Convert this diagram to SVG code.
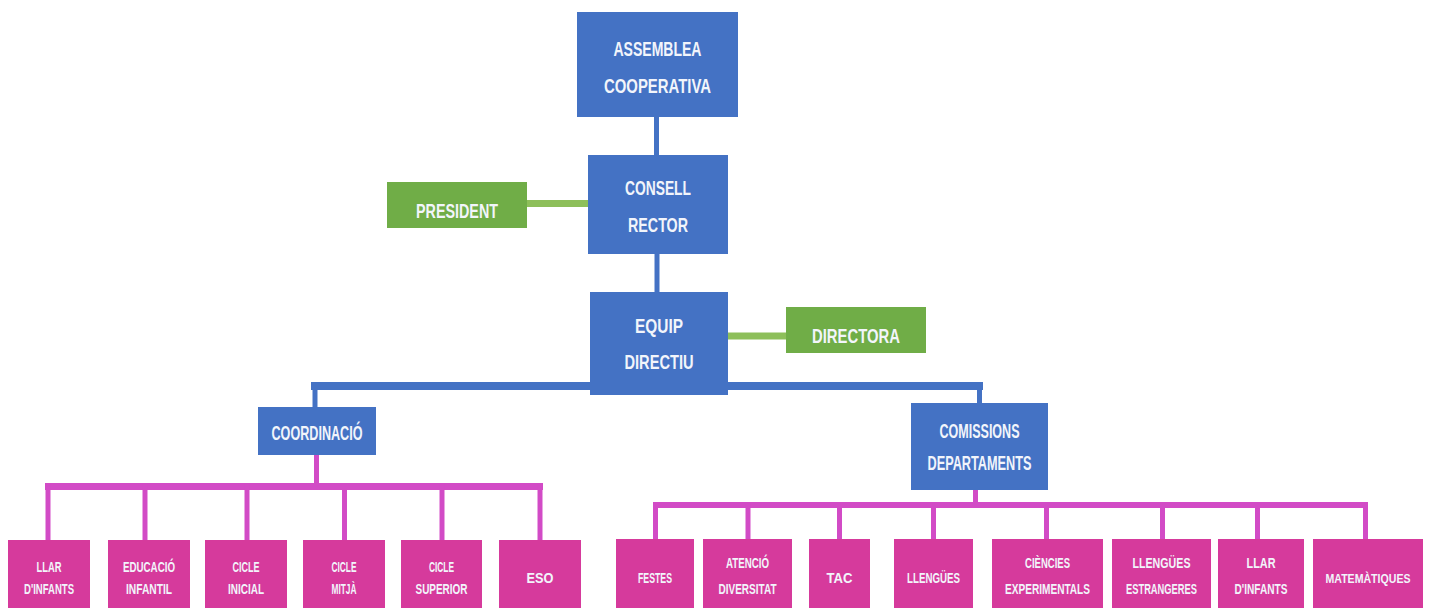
<svg xmlns="http://www.w3.org/2000/svg" width="1430" height="608" viewBox="0 0 1430 608">
<style>
.blue{fill:#4472C4}
.green{fill:#70AD47}
.pink{fill:#D63A9C}
text{font-family:"Liberation Sans",Arial,sans-serif;font-weight:bold;fill:#F2F5FB;text-anchor:middle}
.big{font-size:20px}
.small{font-size:15px}
.cb{stroke:#4472C4;fill:none}
.cg{stroke:#8DBF5A;fill:none;stroke-width:7}
.cp{stroke:#D24BC6;fill:none}
</style>
<rect width="1430" height="608" fill="#ffffff"/>
<g id="connectors">
<line class="cb" x1="656.5" y1="117" x2="656.5" y2="155" stroke-width="5"/>
<line class="cb" x1="657" y1="254" x2="657" y2="292" stroke-width="5"/>
<line class="cg" x1="527" y1="203.5" x2="588" y2="203.5"/>
<line class="cg" x1="728" y1="336" x2="786" y2="336"/>
<line class="cb" x1="311" y1="386" x2="983" y2="386" stroke-width="8"/>
<line class="cb" x1="315" y1="386" x2="315" y2="407" stroke-width="5"/>
<line class="cb" x1="979.5" y1="386" x2="979.5" y2="403" stroke-width="5"/>
<line class="cp" x1="316.5" y1="455" x2="316.5" y2="487" stroke-width="5"/>
<line class="cp" x1="45" y1="486.5" x2="543" y2="486.5" stroke-width="7"/>
<g stroke-width="5">
<line class="cp" x1="48" y1="484" x2="48" y2="540"/>
<line class="cp" x1="145" y1="484" x2="145" y2="540"/>
<line class="cp" x1="247" y1="484" x2="247" y2="540"/>
<line class="cp" x1="344.5" y1="484" x2="344.5" y2="540"/>
<line class="cp" x1="442" y1="484" x2="442" y2="540"/>
<line class="cp" x1="540" y1="484" x2="540" y2="540"/>
</g>
<line class="cp" x1="975.5" y1="490" x2="975.5" y2="506" stroke-width="5"/>
<line class="cp" x1="653" y1="505" x2="1368" y2="505" stroke-width="6"/>
<g stroke-width="5">
<line class="cp" x1="655.5" y1="503" x2="655.5" y2="539"/>
<line class="cp" x1="748" y1="503" x2="748" y2="539"/>
<line class="cp" x1="839.5" y1="503" x2="839.5" y2="539"/>
<line class="cp" x1="933.5" y1="503" x2="933.5" y2="539"/>
<line class="cp" x1="1046.5" y1="503" x2="1046.5" y2="539"/>
<line class="cp" x1="1162.5" y1="503" x2="1162.5" y2="539"/>
<line class="cp" x1="1257.5" y1="503" x2="1257.5" y2="539"/>
<line class="cp" x1="1365.5" y1="503" x2="1365.5" y2="539"/>
</g>
</g>
<g id="assemblea"><rect class="blue" x="577" y="12" width="161" height="105"/>
<text class="big" x="657.5" y="56" textLength="88" lengthAdjust="spacingAndGlyphs">ASSEMBLEA</text>
<text class="big" x="657.5" y="93" textLength="107" lengthAdjust="spacingAndGlyphs">COOPERATIVA</text></g>
<g id="consell"><rect class="blue" x="588" y="155" width="140" height="99"/>
<text class="big" x="658" y="195" textLength="66" lengthAdjust="spacingAndGlyphs">CONSELL</text>
<text class="big" x="658" y="232" textLength="60" lengthAdjust="spacingAndGlyphs">RECTOR</text></g>
<g id="president"><rect class="green" x="387" y="182" width="140" height="46"/>
<text class="big" x="457" y="218" textLength="82" lengthAdjust="spacingAndGlyphs">PRESIDENT</text></g>
<g id="equip"><rect class="blue" x="590" y="292" width="138" height="103"/>
<text class="big" x="659" y="333" textLength="48" lengthAdjust="spacingAndGlyphs">EQUIP</text>
<text class="big" x="659" y="369" textLength="69" lengthAdjust="spacingAndGlyphs">DIRECTIU</text></g>
<g id="directora"><rect class="green" x="786" y="307" width="140" height="46"/>
<text class="big" x="856" y="343" textLength="88" lengthAdjust="spacingAndGlyphs">DIRECTORA</text></g>
<g id="coordinacio"><rect class="blue" x="258" y="407" width="118" height="48"/>
<text class="big" x="317" y="440" textLength="91" lengthAdjust="spacingAndGlyphs">COORDINACIÓ</text></g>
<g id="comissions"><rect class="blue" x="911" y="403" width="137" height="87"/>
<text class="big" x="979.5" y="438" textLength="80" lengthAdjust="spacingAndGlyphs">COMISSIONS</text>
<text class="big" x="979.5" y="470" textLength="104" lengthAdjust="spacingAndGlyphs">DEPARTAMENTS</text></g>
<g id="llar1"><rect class="pink" x="8" y="540" width="82" height="68"/>
<text class="small" x="49" y="572" textLength="25" lengthAdjust="spacingAndGlyphs">LLAR</text>
<text class="small" x="49" y="594" textLength="50" lengthAdjust="spacingAndGlyphs">D'INFANTS</text></g>
<g id="educacio"><rect class="pink" x="108" y="540" width="82" height="68"/>
<text class="small" x="149" y="572" textLength="52" lengthAdjust="spacingAndGlyphs">EDUCACIÓ</text>
<text class="small" x="149" y="594" textLength="46" lengthAdjust="spacingAndGlyphs">INFANTIL</text></g>
<g id="inicial"><rect class="pink" x="205" y="540" width="82" height="68"/>
<text class="small" x="246" y="572" textLength="27" lengthAdjust="spacingAndGlyphs">CICLE</text>
<text class="small" x="246" y="594" textLength="36" lengthAdjust="spacingAndGlyphs">INICIAL</text></g>
<g id="mitja"><rect class="pink" x="303" y="540" width="82" height="68"/>
<text class="small" x="344" y="572" textLength="25" lengthAdjust="spacingAndGlyphs">CICLE</text>
<text class="small" x="344" y="594" textLength="25" lengthAdjust="spacingAndGlyphs">MITJÀ</text></g>
<g id="superior"><rect class="pink" x="401" y="540" width="81" height="68"/>
<text class="small" x="441.5" y="572" textLength="25" lengthAdjust="spacingAndGlyphs">CICLE</text>
<text class="small" x="441.5" y="594" textLength="52" lengthAdjust="spacingAndGlyphs">SUPERIOR</text></g>
<g id="eso"><rect class="pink" x="499" y="540" width="82" height="68"/>
<text class="small" x="540" y="583" textLength="27" lengthAdjust="spacingAndGlyphs">ESO</text></g>
<g id="festes"><rect class="pink" x="616" y="539" width="78" height="69"/>
<text class="small" x="655" y="583" textLength="34" lengthAdjust="spacingAndGlyphs">FESTES</text></g>
<g id="atencio"><rect class="pink" x="703" y="539" width="89" height="69"/>
<text class="small" x="747.5" y="568" textLength="43" lengthAdjust="spacingAndGlyphs">ATENCIÓ</text>
<text class="small" x="747.5" y="594" textLength="58" lengthAdjust="spacingAndGlyphs">DIVERSITAT</text></g>
<g id="tac"><rect class="pink" x="809" y="539" width="61" height="69"/>
<text class="small" x="839.5" y="583" textLength="26" lengthAdjust="spacingAndGlyphs">TAC</text></g>
<g id="llengues"><rect class="pink" x="894" y="539" width="79" height="69"/>
<text class="small" x="933.5" y="583" textLength="53" lengthAdjust="spacingAndGlyphs">LLENGÜES</text></g>
<g id="ciencies"><rect class="pink" x="992" y="539" width="111" height="69"/>
<text class="small" x="1047.5" y="568" textLength="45" lengthAdjust="spacingAndGlyphs">CIÈNCIES</text>
<text class="small" x="1047.5" y="594" textLength="85" lengthAdjust="spacingAndGlyphs">EXPERIMENTALS</text></g>
<g id="estrangeres"><rect class="pink" x="1112" y="539" width="99" height="69"/>
<text class="small" x="1161.5" y="568" textLength="58" lengthAdjust="spacingAndGlyphs">LLENGÜES</text>
<text class="small" x="1161.5" y="594" textLength="71" lengthAdjust="spacingAndGlyphs">ESTRANGERES</text></g>
<g id="llar2"><rect class="pink" x="1218" y="539" width="86" height="69"/>
<text class="small" x="1261" y="568" textLength="29" lengthAdjust="spacingAndGlyphs">LLAR</text>
<text class="small" x="1261" y="594" textLength="53" lengthAdjust="spacingAndGlyphs">D'INFANTS</text></g>
<g id="matematiques"><rect class="pink" x="1313" y="539" width="110" height="69"/>
<text x="1368" y="583" font-size="13" textLength="85" lengthAdjust="spacingAndGlyphs">MATEMÀTIQUES</text></g>
</svg>
